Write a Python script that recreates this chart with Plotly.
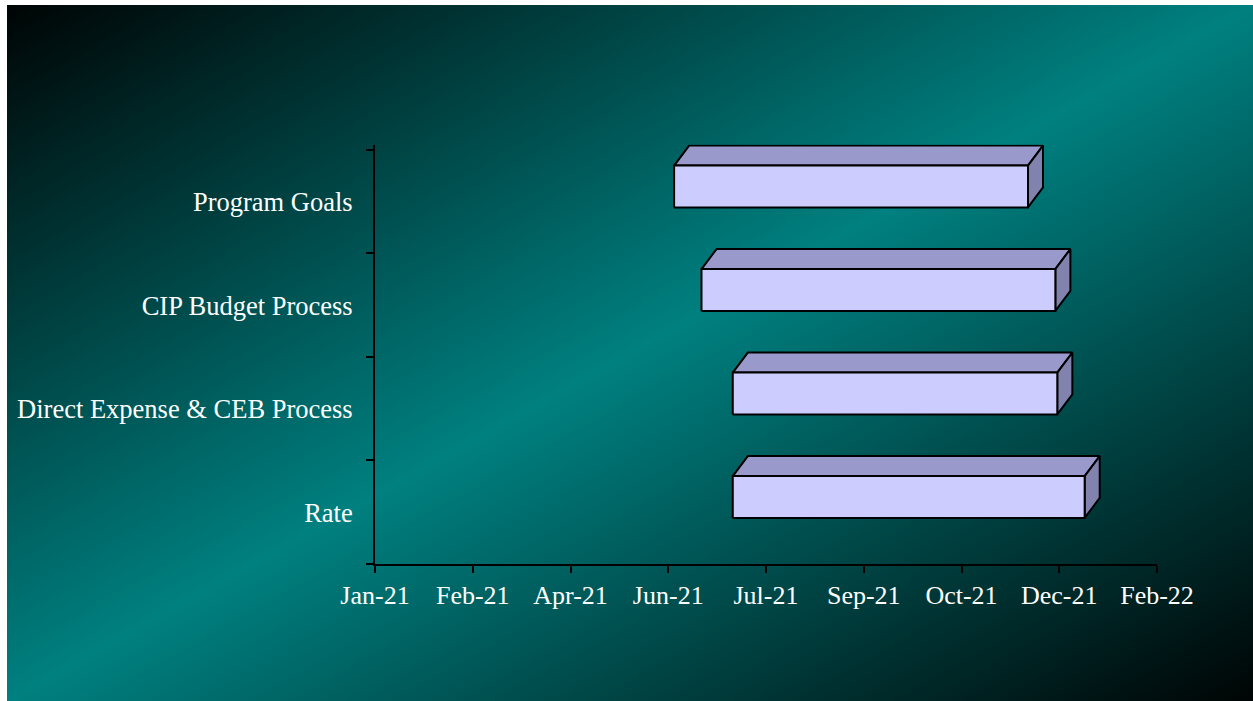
import base64
import pandas as pd
import plotly.graph_objects as go

# Schedule data (bottom to top)
tasks = ["Rate", "Direct Expense & CEB Process", "CIP Budget Process", "Program Goals"]
start_dates = ["2021-07-05", "2021-07-05", "2021-06-19", "2021-06-05"]
end_dates = ["2022-01-01", "2021-12-18", "2021-12-17", "2021-12-03"]

# Date axis settings
axis_start = "2021-01-03"
tick_step_days = 50
n_steps = 8

# Bar styling (3-D box look)
FRONT = "#CCCCFF"
TOP = "#9999CC"
SIDE = "#8282AE"
BAR_LO, BAR_HI = -0.055, 0.35      # front face extent relative to category centre
DEPTH_DAYS, DEPTH_Y = 7.7, 0.193   # oblique depth offset
FONT = "Liberation Serif"

x0 = pd.Timestamp(axis_start)
x1 = x0 + pd.Timedelta(days=tick_step_days * n_steps)
dx = pd.Timedelta(days=DEPTH_DAYS)

fig = go.Figure()


def face(xs, ys, color):
    fig.add_trace(go.Scatter(
        x=xs, y=ys, mode="lines", fill="toself", fillcolor=color,
        line=dict(color="black", width=2), hoverinfo="skip", showlegend=False,
    ))


for i, (name, s, e) in enumerate(zip(tasks, start_dates, end_dates)):
    s, e = pd.Timestamp(s), pd.Timestamp(e)
    c = i + 0.5
    lo, hi = c + BAR_LO, c + BAR_HI
    # top face
    face([s, s + dx, e + dx, e, s], [hi, hi + DEPTH_Y, hi + DEPTH_Y, hi, hi], TOP)
    # side face
    face([e, e + dx, e + dx, e, e], [lo, lo + DEPTH_Y, hi + DEPTH_Y, hi, lo], SIDE)
    # front face
    face([s, e, e, s, s], [lo, lo, hi, hi, lo], FRONT)

# Diagonal dark-teal background
svg = (
    '<svg xmlns="http://www.w3.org/2000/svg" width="1246" height="696" '
    'viewBox="0 0 1246 696" preserveAspectRatio="none">'
    '<defs><linearGradient id="g" x1="0" y1="0" x2="1" y2="1">'
    '<stop offset="0" stop-color="#000404"/>'
    '<stop offset="0.5" stop-color="#008080"/>'
    '<stop offset="1" stop-color="#000404"/>'
    '</linearGradient></defs>'
    '<rect width="1246" height="696" fill="url(#g)"/></svg>'
)
bg_src = "data:image/svg+xml;base64," + base64.b64encode(svg.encode()).decode()

W, H = 1253, 701
y_top = len(tasks) + 0.05

fig.update_layout(
    width=W, height=H,
    margin=dict(l=0, r=0, t=0, b=0, autoexpand=False),
    paper_bgcolor="white",
    plot_bgcolor="rgba(0,0,0,0)",
    images=[dict(
        source=bg_src, xref="paper", yref="paper",
        x=7 / W, y=1 - 5 / H, sizex=1246 / W, sizey=696 / H,
        xanchor="left", yanchor="top", sizing="stretch", layer="below",
    )],
    xaxis=dict(
        type="date", range=[x0, x1], domain=[375 / W, 1157 / W],
        automargin=False,
        tickmode="linear", tick0=x0, dtick=tick_step_days * 86400000,
        tickformat="%b-%y",
        ticks="outside", ticklen=7, tickwidth=2, tickcolor="black",
        showline=True, linecolor="black", linewidth=2,
        showgrid=False, zeroline=False,
        tickfont=dict(family=FONT, size=26, color="white"),
        ticklabelstandoff=0,
    ),
    yaxis=dict(
        range=[0, y_top], automargin=False,
        domain=[(H - 564) / H, (H - (564 - y_top * 103.5)) / H],
        tickmode="array",
        tickvals=[i + 0.5 for i in range(len(tasks))],
        ticktext=tasks, ticks="",
        minor=dict(tickmode="array", tickvals=list(range(len(tasks) + 1)),
                   ticks="outside", ticklen=7, tickwidth=2, tickcolor="black"),
        showline=True, linecolor="black", linewidth=2,
        showgrid=False, zeroline=False,
        tickfont=dict(family=FONT, size=26.5, color="white"),
        ticklabelstandoff=15,
    ),
)

fig.write_html("out.html")
